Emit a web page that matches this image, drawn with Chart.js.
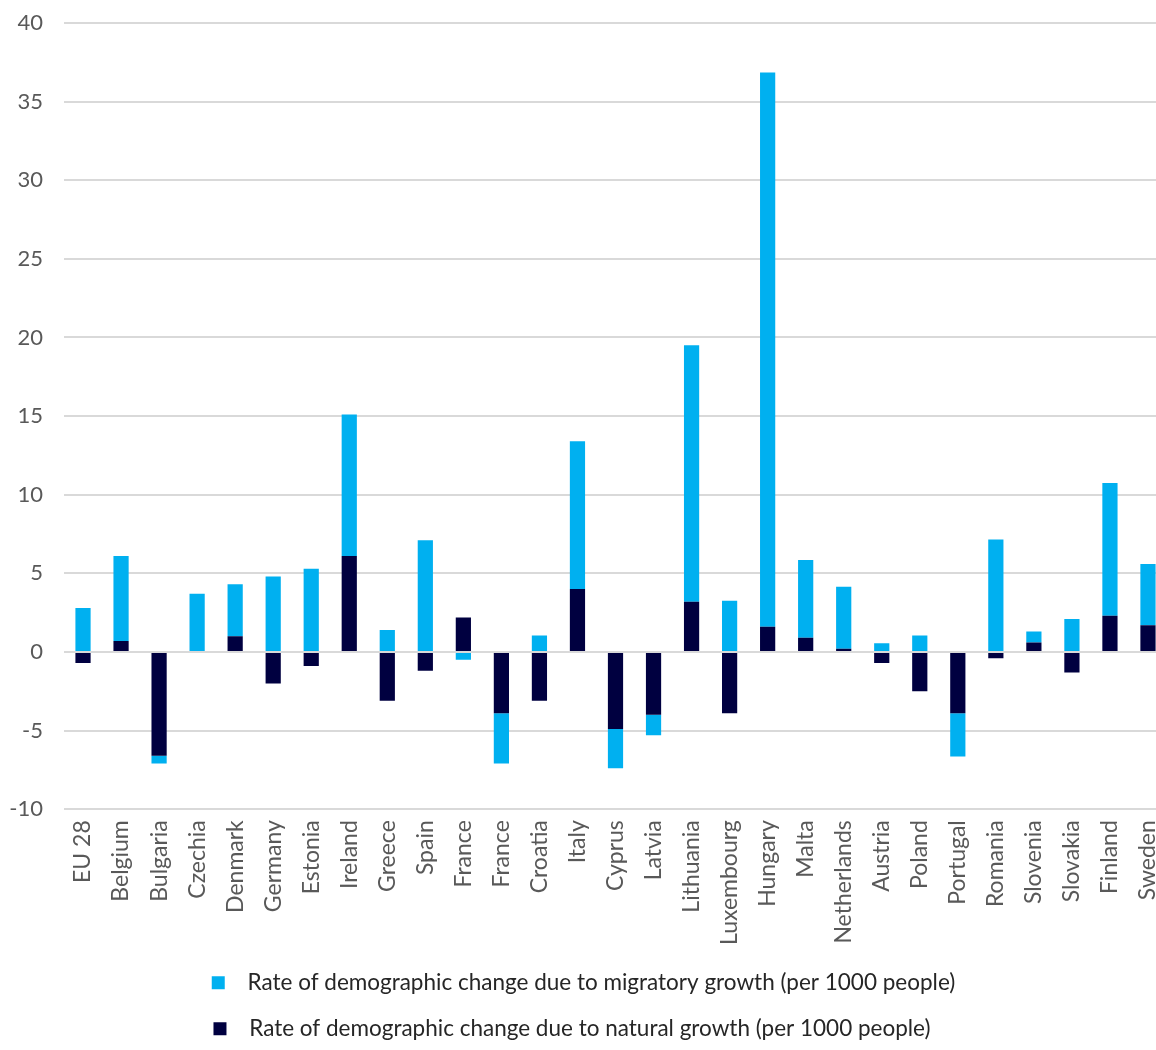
<!DOCTYPE html>
<html>
<head>
<meta charset="utf-8">
<title>Demographic change</title>
<script src="https://cdn.jsdelivr.net/npm/chart.js@4.4.0/dist/chart.umd.min.js"></script>
<style>
    html, body { margin: 0; padding: 0; background: #fff; overflow: hidden; }
    #wrap { width: 1180px; height: 1050px; position: relative; }
</style>
</head>
<body>
<div id="wrap"><canvas id="demoChart"></canvas></div>
<script>
const categories = ['EU 28', 'Belgium', 'Bulgaria', 'Czechia', 'Denmark', 'Germany', 'Estonia', 'Ireland', 'Greece', 'Spain',
    'France', 'France', 'Croatia', 'Italy', 'Cyprus', 'Latvia', 'Lithuania', 'Luxembourg', 'Hungary', 'Malta',
    'Netherlands', 'Austria', 'Poland', 'Portugal', 'Romania', 'Slovenia', 'Slovakia', 'Finland', 'Sweden'];

// natural growth (per 1000 people)
const naturalGrowth = [-0.7, 0.7, -6.6, 0.0, 1.0, -2.0, -0.9, 6.1, -3.1, -1.2,
    2.2, -3.9, -3.1, 4.0, -4.9, -4.0, 3.2, -3.9, 1.6, 0.9,
    0.2, -0.7, -2.5, -3.9, -0.4, 0.6, -1.3, 2.3, 1.7];

// migratory growth (per 1000 people)
const migratoryGrowth = [2.8, 5.4, -0.5, 3.7, 3.3, 4.8, 5.3, 9.0, 1.4, 7.1,
    -0.5, -3.2, 1.05, 9.4, -2.5, -1.3, 16.3, 3.25, 35.25, 4.95,
    3.95, 0.55, 1.05, -2.75, 7.15, 0.7, 2.1, 8.45, 3.9];

const yTicks = [-10, -5, 0, 5, 10, 15, 20, 25, 30, 35, 40];

const labelNatural = 'Rate of demographic change due to natural growth (per 1000 people)';
const labelMigratory = 'Rate of demographic change due to migratory growth (per 1000 people)';

const legendFont = { family: 'Lato', size: 22.5 };

const ctx = document.getElementById('demoChart');
new Chart(ctx, {
    type: 'bar',
    data: {
        labels: categories,
        datasets: [{
            label: labelNatural,
            data: naturalGrowth,
            backgroundColor: '#000040',
            borderWidth: 0,
            categoryPercentage: 0.8,
            barPercentage: 0.5
        }, {
            label: labelMigratory,
            data: migratoryGrowth,
            backgroundColor: '#00B0F0',
            borderWidth: 0,
            categoryPercentage: 0.8,
            barPercentage: 0.5
        }]
    },
    options: {
        responsive: true,
        maintainAspectRatio: false,
        animation: false,
        layout: {
            padding: { top: 0, right: 13, left: 0, bottom: 0 }
        },
        plugins: {
            tooltip: { enabled: false },
            legend: {
                position: 'bottom',
                reverse: true,
                labels: {
                    boxWidth: 13,
                    boxHeight: 13,
                    padding: 23.5,
                    color: '#262626',
                    font: legendFont,
                    // more room after the square, and pad the rows to one width so the squares line up
                    generateLabels: function(chart) {
                        const items = Chart.defaults.plugins.legend.labels.generateLabels(chart);
                        const c = chart.ctx;
                        c.save();
                        c.font = legendFont.size + 'px ' + legendFont.family;
                        items.forEach(item => { item.text = '  ' + item.text; });
                        const maxW = Math.max(...items.map(item => c.measureText(item.text).width));
                        items.forEach(item => {
                            while (c.measureText(item.text + ' ').width <= maxW + 2) item.text += ' ';
                        });
                        c.restore();
                        return items;
                    }
                }
            }
        },
        scales: {
            x: {
                stacked: true,
                grid: { display: false },
                border: { display: false },
                ticks: {
                    autoSkip: false,
                    maxRotation: 90,
                    minRotation: 90,
                    padding: 3,
                    color: '#595959',
                    font: { family: 'Lato', size: 23 }
                }
            },
            y: {
                stacked: true,
                min: -10,
                max: 40,
                afterBuildTicks: function(scale) {
                    scale.ticks = yTicks.map(v => ({ value: v }));
                },
                grid: {
                    color: '#d9d9d9',
                    lineWidth: 2,
                    drawTicks: false
                },
                border: { display: false },
                ticks: {
                    padding: 21,
                    color: '#595959',
                    font: { family: 'Lato', size: 22 }
                },
                afterFit: function(scale) {
                    scale.width = 64;
                    scale.paddingTop = 23;
                    scale.paddingBottom = 0;
                }
            }
        }
    }
});
</script>
</body>
</html>
